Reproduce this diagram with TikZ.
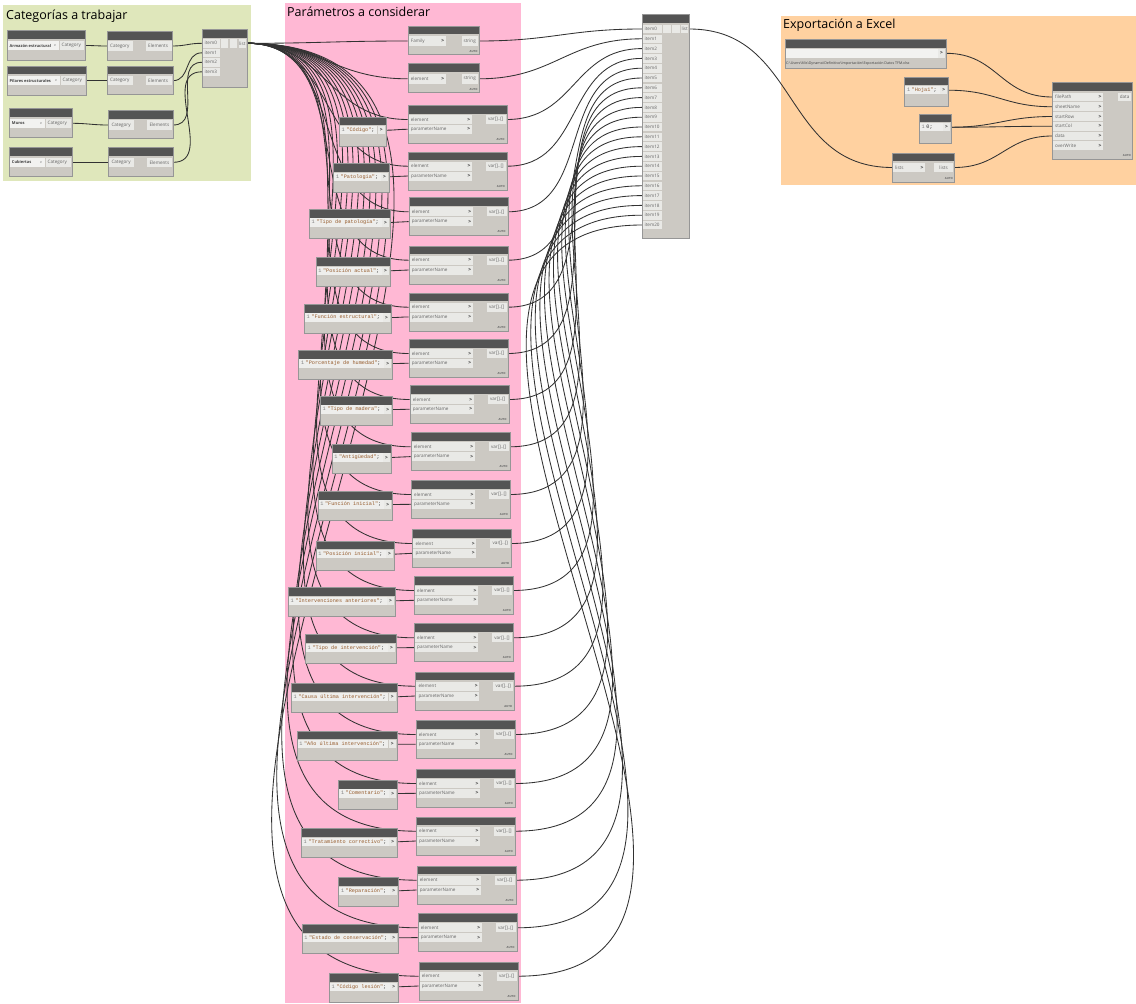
\documentclass[tikz,border=0pt]{standalone}
\usepackage{fontspec}
\setmainfont{Open Sans}
\newfontfamily\codefont{Liberation Mono}
\usetikzlibrary{calc}
\pgfdeclarelayer{groups}
\pgfdeclarelayer{wires}
\pgfsetlayers{groups,wires,main}
\definecolor{grpgreen}{RGB}{223,231,187}
\definecolor{grppink}{RGB}{255,184,212}
\definecolor{grporange}{RGB}{255,209,160}
\definecolor{hdr}{RGB}{84,84,84}
\definecolor{bodyc}{RGB}{204,201,195}
\definecolor{rowc}{RGB}{233,233,230}
\definecolor{dropc}{RGB}{242,242,240}
\definecolor{coderow}{RGB}{238,238,236}
\definecolor{bordc}{RGB}{150,150,150}
\definecolor{labc}{RGB}{100,100,100}
\definecolor{arrc}{RGB}{60,60,60}
\definecolor{wirec}{RGB}{50,50,50}
\definecolor{strc}{RGB}{150,92,45}
\definecolor{gutc}{RGB}{130,130,130}
\tikzset{
  x=1pt, y=-1pt,
  dbody/.style={fill=bodyc, inner sep=0pt, outer sep=0pt},
  plab/.style={font=\fontsize{4.6}{5}\selectfont, text=labc, inner sep=0pt, anchor=west},
  parr/.style={font=\fontsize{5}{5}\selectfont\bfseries, text=arrc, inner sep=0pt},
  autolab/.style={font=\fontsize{2.8}{3}\selectfont\bfseries, text=labc, inner sep=0pt, anchor=east},
  cbtext/.style={font=\codefont\fontsize{5.2}{6}\selectfont, text=black!80, inner sep=0pt, anchor=west},
  ddrop/.style={font=\fontsize{4}{5}\selectfont\bfseries, text=black!75, inner sep=0pt, anchor=west},
  pathlab/.style={font=\fontsize{3.6}{4}\selectfont, text=black!75, inner sep=0pt, anchor=west},
  wire/.style={draw=wirec, line width=0.85pt},
  gtitle/.style={font=\fontsize{12.5}{14}\selectfont, text=black, inner sep=0pt, anchor=base west},
}
% generic Dynamo node box: name L T R B
\newcommand\DNbox[5]{%
  \node[dbody, anchor=north west, minimum width={(#4-(#2))*1pt}, minimum height={(#5-(#3))*1pt}] (#1) at (#2,#3) {};
  \fill[hdr] (#1.north west) rectangle ([yshift=-8.6pt]#1.north east);
  \draw[bordc, line width=0.4pt] (#1.north west) rectangle (#1.south east);
}
% GetParameterValueByName: name L T
\newcommand\GPnode[3]{%
  \DNbox{#1}{#2}{#3}{#2+99}{#3+38}
  \fill[rowc] ({#2+1},{#3+10}) rectangle ({#2+64},{#3+19});
  \fill[rowc] ({#2+1},{#3+19.8}) rectangle ({#2+64},{#3+28.8});
  \fill[rowc] ({#2+78},{#3+10}) rectangle ({#2+98},{#3+19});
  \node[plab] at ({#2+3},{#3+14.5}) {element};
  \node[plab] at ({#2+3},{#3+24.3}) {parameterName};
  \node[parr] at ({#2+61},{#3+14.5}) {>};
  \node[parr] at ({#2+61},{#3+24.3}) {>};
  \node[plab, anchor=center] at ({#2+88},{#3+14.5}) {var[]..[]};
  \node[autolab] at ({#2+97},{#3+34.5}) {AUTO};
  \coordinate (#1-in1) at (#2,{#3+14.5});
  \coordinate (#1-in2) at (#2,{#3+24.3});
  \coordinate (#1-out) at ({#2+99},{#3+14.5});
}
% string node (one input, output "string"): name L T inputlabel
\newcommand\STRnode[4]{%
  \DNbox{#1}{#2}{#3}{#2+71.3}{#3+28.5}
  \fill[rowc] ({#2+1},{#3+10.5}) rectangle ({#2+38},{#3+20});
  \fill[rowc] ({#2+54},{#3+10.5}) rectangle ({#2+70.3},{#3+20});
  \node[plab] at ({#2+3},{#3+15.3}) {#4};
  \node[parr] at ({#2+35},{#3+15.3}) {>};
  \node[plab, anchor=center] at ({#2+62},{#3+15.3}) {string};
  \node[autolab] at ({#2+70},{#3+25.5}) {AUTO};
  \coordinate (#1-in) at (#2,{#3+15.3});
  \coordinate (#1-out) at ({#2+71.3},{#3+15.3});
}
% code block: name L T R content
\newcommand\CBnode[5]{%
  \DNbox{#1}{#2}{#3}{#4}{#3+29}
  \fill[coderow] ({#2+1},{#3+9.3}) rectangle ({#4-8.5},{#3+17.7});
  \fill[rowc] ({#4-8},{#3+9.3}) rectangle ({#4-1},{#3+17.7});
  \node[parr] at ({#4-4.5},{#3+13.5}) {>};
  \node[cbtext] at ({#2+2.5},{#3+13.5}) {{\color{gutc}1}\hspace{1.6pt}#5};
  \coordinate (#1-out) at (#4,{#3+13.5});
}
\newcommand\strtxt[1]{{\color{strc}"#1"};}
% Categories dropdown: name L T R B dropR text
\newcommand\CATnode[7]{%
  \DNbox{#1}{#2}{#3}{#4}{#5}
  \fill[dropc] ({#2+1},{#3+10.3}) rectangle (#6,{#3+19.7});
  \node[ddrop] at ({#2+2.5},{#3+15}) {#7};
  \node[plab] at ({#6-5},{#3+15}) {\fontsize{3.5}{4}\selectfont v};
  \fill[rowc] ({#6+1},{#3+10.3}) rectangle ({#4-1},{#3+19.7});
  \node[plab] at ({#6+2.5},{#3+15}) {Category};
  \coordinate (#1-out) at (#4,{#3+15});
}
% All elements of category: name L T R B
\newcommand\ELnode[5]{%
  \DNbox{#1}{#2}{#3}{#4}{#5}
  \fill[rowc] ({#2+1},{#3+10.3}) rectangle ({#2+26},{#3+19.7});
  \fill[rowc] ({#2+39},{#3+10.3}) rectangle ({#4-1},{#3+19.7});
  \node[plab] at ({#2+3},{#3+15}) {Category};
  \node[plab] at ({#2+41},{#3+15}) {Elements};
  \coordinate (#1-in) at (#2,{#3+15});
  \coordinate (#1-out) at (#4,{#3+15});
}
\newcommand\Wire[2]{%
  \draw[wire] let \p1=(#1), \p2=(#2), \n1={max(10,0.45*veclen(\x2-\x1,\y2-\y1))} in
    (\p1) .. controls +(\n1,0) and +(-\n1,0) .. (\p2);
}
\begin{document}
\begin{tikzpicture}
\useasboundingbox (0,0) rectangle (1136,1004);
\begin{pgfonlayer}{groups}
\fill[white] (0,0) rectangle (1136,1004);
\fill[grpgreen] (3,4.5) rectangle (251,181);
\fill[grppink] (285,3) rectangle (521,1003);
\fill[grporange] (781,16) rectangle (1136,185);
\end{pgfonlayer}
\node[gtitle] (t1) at (6,19) {Categorías a trabajar};
\node[gtitle] (t2) at (287,16.5) {Parámetros a considerar};
\node[gtitle] (t3) at (783,28.5) {Exportación a Excel};

% ---- green group
\CATnode{cat1}{7}{30.5}{85}{60}{59}{Armazón estructural}
\CATnode{cat2}{7}{65.7}{86}{95}{60}{Pilares estructurales}
\CATnode{cat3}{9.3}{108.3}{71.7}{136.7}{45}{Muros}
\CATnode{cat4}{9.3}{147.3}{71.7}{175.7}{45}{Cubiertas}
\ELnode{el1}{107}{31}{172.5}{60}
\ELnode{el2}{107}{65.7}{172.7}{94.3}
\ELnode{el3}{108.3}{110}{173.3}{137.7}
\ELnode{el4}{108.3}{147.3}{173.3}{175.7}
\DNbox{gl}{202}{29}{247}{87}
\foreach \i in {0,...,3}{
  \pgfmathsetmacro\yy{43.3+9.5*\i}
  \fill[rowc] (203,{\yy-4.2}) rectangle (220,{\yy+4.2});
  \node[plab] at (204.5,\yy) {item\i};
  \coordinate (gl-in\i) at (202,\yy);
}
\fill[rowc] (221,39.1) rectangle (228,47.5);
\fill[rowc] (229.5,39.1) rectangle (236.5,47.5);
\fill[rowc] (238.5,39.1) rectangle (246.3,47.5);
\node[plab, anchor=center] at (242.4,43.3) {list};
\coordinate (gl-out) at (247,43.3);

% ---- pink group
\STRnode{s1}{407.7}{25.7}{Family}
\STRnode{s2}{407.7}{63.5}{element}
\foreach \i/\lx/\ty in {1/407.7/105, 2/408/151.7, 3/408.7/197.3, 4/408.7/245.7, 5/408.7/292.7,
  6/408.7/339, 7/409.7/385, 8/410.7/432.3, 9/411/480, 10/412.3/529, 11/414/576, 12/414/623.3,
  13/415.3/671.7, 14/415.7/720, 15/416/769, 16/416/816.7, 17/416.7/865.7, 18/417.7/913.3, 19/418.7/961.7}{
  \GPnode{gp\i}{\lx}{\ty}
}
\foreach \i/\lx/\ty/\rx/\txt in {1/339/116.7/385.7/Código, 2/333.3/163.3/389/Patología,
  3/309/209/390/Tipo de patología, 4/315.7/257.3/390/Posición actual,
  5/304/304/391/Función estructural, 6/298.3/350/392.3/Porcentaje de humedad,
  7/320/396/392.3/Tipo de madera, 8/331.7/444/391/Antigüedad,
  9/317.7/491/392.3/Función inicial, 10/315.7/540.7/394/Posición inicial,
  11/288/587.3/395/Intervenciones anteriores, 12/305/634.3/396/Tipo de intervención,
  13/291/683.3/396.7/Causa última intervención, 14/296.7/730.7/396.7/Año última intervención,
  15/338.3/780/397.3/Comentario, 16/301/828.3/397.3/Tratamiento correctivo,
  17/338.3/877.3/398.3/Reparación, 18/301.7/924.3/398.3/Estado de conservación,
  19/329/973.3/398.3/Código lesión}{
  \CBnode{cb\i}{\lx}{\ty}{\rx}{\strtxt{\txt}}
}

% ---- big List.Create
\DNbox{bl}{642}{14}{689.3}{238}
\foreach \i in {0,...,20}{
  \pgfmathsetmacro\yy{29+9.8*\i}
  \fill[rowc] (643,{\yy-4.3}) rectangle (662,{\yy+4.3});
  \node[plab] at (644.5,\yy) {item\i};
  \coordinate (bl-in\i) at (642,\yy);
}
\fill[rowc] (663,24.7) rectangle (671,33.3);
\fill[rowc] (672,24.7) rectangle (680,33.3);
\fill[rowc] (681,24.7) rectangle (688.3,33.3);
\node[plab, anchor=center] at (684.7,29) {list};
\coordinate (bl-out) at (689.3,29);

% ---- orange group
\DNbox{fp}{785}{39}{946}{68.3}
\fill[dropc] (786,48.6) rectangle (937.5,58);
\fill[rowc] (938.3,48.6) rectangle (945,58);
\node[parr] at (941.6,53.3) {>};
\node[pathlab] at (786,63.3) {C:\textbackslash Users\textbackslash Mis\textbackslash Dynamo\textbackslash Definitivo\textbackslash Importación\textbackslash Exportación Datos TFM.xlsx};
\coordinate (fp-out) at (946,53.3);
\CBnode{hj}{904.3}{76.7}{948.3}{\strtxt{Hoja1}}
\CBnode{zr}{919}{113.7}{951}{0;}
\DNbox{tr}{892.3}{152.7}{954.3}{181.7}
\fill[rowc] (893.3,162.8) rectangle (925,172.2);
\fill[rowc] (934,162.8) rectangle (953.3,172.2);
\node[plab] at (895,167.5) {lists};
\node[parr] at (922,167.5) {>};
\node[plab, anchor=center] at (943.6,167.5) {lists};
\node[autolab] at (953,178.5) {AUTO};
\coordinate (tr-in) at (892.3,167.5);
\coordinate (tr-out) at (954.3,167.5);
\DNbox{xl}{1052}{82}{1132.3}{159}
\foreach \i/\lab in {0/filePath,1/sheetName,2/startRow,3/startCol,4/data,5/overWrite}{
  \pgfmathsetmacro\yy{97+9.75*\i}
  \fill[rowc] (1053,{\yy-4.3}) rectangle (1103,{\yy+4.3});
  \node[plab] at (1055,\yy) {\lab};
  \node[parr] at (1100,\yy) {>};
  \coordinate (xl-in\i) at (1052,\yy);
}
\fill[rowc] (1118,92.7) rectangle (1131.3,101.3);
\node[plab, anchor=center] at (1124.6,97) {data};
\node[autolab] at (1131,155.5) {AUTO};

% ---- wires
\begin{pgfonlayer}{wires}
\Wire{cat1-out}{el1-in}
\Wire{cat2-out}{el2-in}
\Wire{cat3-out}{el3-in}
\Wire{cat4-out}{el4-in}
\Wire{el1-out}{gl-in0}
\Wire{el2-out}{gl-in1}
\Wire{el3-out}{gl-in2}
\Wire{el4-out}{gl-in3}
\Wire{gl-out}{s1-in}
\Wire{gl-out}{s2-in}
\Wire{s1-out}{bl-in0}
\Wire{s2-out}{bl-in1}
\foreach \i in {1,...,19}{
  \pgfmathtruncatemacro\j{\i+1}
  \Wire{gl-out}{gp\i-in1}
  \Wire{cb\i-out}{gp\i-in2}
  \Wire{gp\i-out}{bl-in\j}
}
\Wire{fp-out}{xl-in0}
\Wire{hj-out}{xl-in1}
\Wire{zr-out}{xl-in2}
\Wire{zr-out}{xl-in3}
\Wire{bl-out}{tr-in}
\Wire{tr-out}{xl-in4}
\end{pgfonlayer}
\end{tikzpicture}
\end{document}
